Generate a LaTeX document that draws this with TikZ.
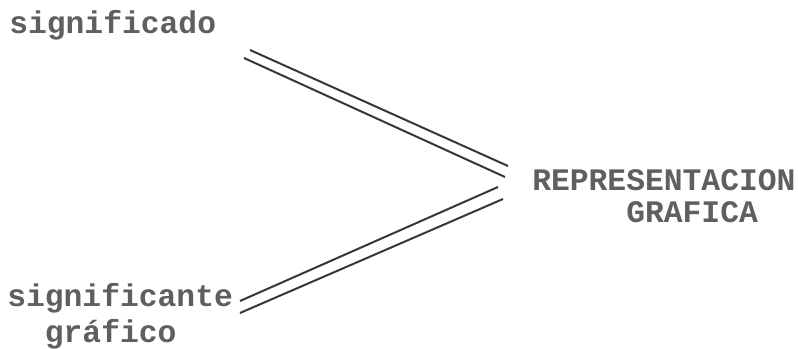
\documentclass[tikz,border=0pt]{standalone}
\usepackage{fontspec}
\newfontfamily\labelfont{Liberation Mono}[BoldFont={* Bold}]
\definecolor{txtgray}{RGB}{95,95,95}
\definecolor{linegray}{RGB}{55,55,55}
\begin{document}
\begin{tikzpicture}[x=0.75pt,y=-0.75pt,
  lbl/.style={inner sep=0pt,anchor=base west,text=txtgray,
    font=\labelfont\bfseries\fontsize{23.5}{28}\selectfont},
  conn/.style={draw=linegray,line width=1.5pt}]
\useasboundingbox (0,0) rectangle (798,349);
\node[lbl] (sdo) at (9,34) {significado};
\node[lbl] (rep) at (532,190) {REPRESENTACION};
\node[lbl] (gra) at (532,222) {\hphantom{REPRE}GRAFICA};
\node[lbl] (ste) at (7,306) {significante};
\node[lbl] (gfo) at (7,342) {\hphantom{si}gráfico};
% upper pair
\coordinate (a1) at (250,50);  \coordinate (b1) at (508,166);
\coordinate (a2) at (244,58);  \coordinate (b2) at (505,177);
% lower pair
\coordinate (c1) at (240,301); \coordinate (d1) at (498,187);
\coordinate (c2) at (240,313); \coordinate (d2) at (503,199);
\draw[conn] (a1) -- (b1);
\draw[conn] (a2) -- (b2);
\draw[conn] (c1) -- (d1);
\draw[conn] (c2) -- (d2);
\end{tikzpicture}
\end{document}
